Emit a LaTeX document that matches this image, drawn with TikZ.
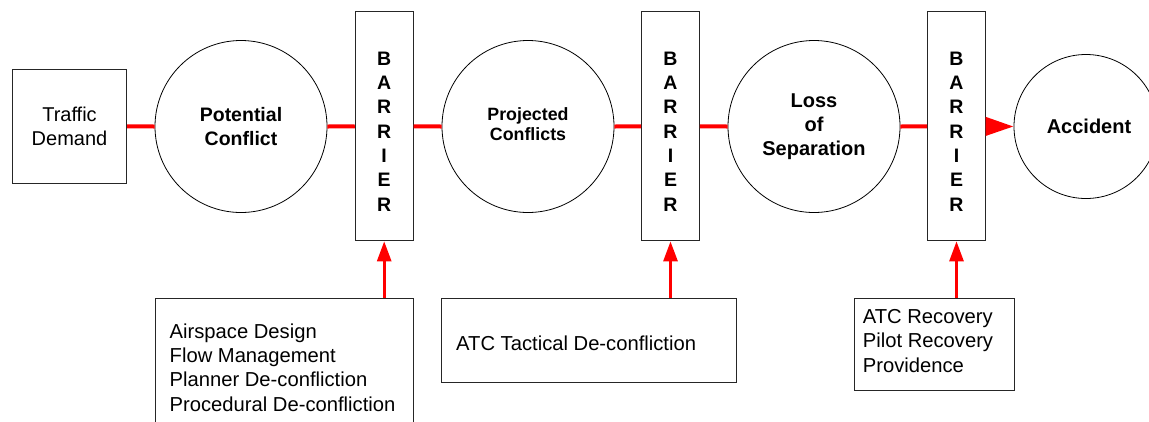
\documentclass[tikz,border=0pt]{standalone}
\usepackage{fontspec}
\setmainfont{Liberation Sans}
\usetikzlibrary{arrows.meta}
\begin{document}
\begin{tikzpicture}[x=1pt,y=-1pt,
  box/.style={draw=black!85,line width=0.9pt,rectangle,inner sep=0pt},
  ring/.style={draw=black,line width=0.8pt,circle,inner sep=0pt,minimum size=172pt,align=center,font=\fontsize{19.5}{24}\selectfont\bfseries},
  barrierbox/.style={box,minimum width=58pt,minimum height=229pt},
  barriertext/.style={inner sep=0pt,align=center,font=\fontsize{19.5}{24.33}\selectfont\bfseries},
  listtext/.style={inner sep=0pt,align=left,anchor=north west,font=\fontsize{20.2}{24.4}\selectfont},
  redline/.style={draw=red,line width=4pt},
  redarrow/.style={draw=red,line width=4pt,-{Triangle[length=28pt,width=18pt]}},
  uparrow/.style={draw=red,line width=2.8pt,-{Triangle[length=20pt,width=14pt]}}
]
\useasboundingbox (0,0) rectangle (1149,421);
\clip (0,0) rectangle (1149,421);

% top row
\node[box,minimum width=114.4pt,minimum height=114.3pt,align=center,
      font=\fontsize{20}{24}\selectfont] (td) at (69.5,126.4) {Traffic\\Demand};
\node[ring] (c1) at (241,126.5) {Potential\\Conflict};
\node[barrierbox] (b1) at (384.2,126.4) {};
\node[barriertext,anchor=north] (b1t) at (384.2,51.7) {B\\A\\R\\R\\I\\E\\R};
\node[ring,font=\fontsize{17.8}{21.7}\selectfont\bfseries] (c2) at (528,126.5) {\raisebox{-2pt}{\begin{tabular}{@{}c@{}}Projected\\[-1.5pt]Conflicts\end{tabular}}};
\node[barrierbox] (b2) at (670.5,126.4) {};
\node[barriertext,anchor=north] (b2t) at (670.5,51.7) {B\\A\\R\\R\\I\\E\\R};
\node[ring,font=\fontsize{20}{24.2}\selectfont\bfseries] (c3) at (814,126.5) {Loss\\of\\Separation};
\node[barrierbox] (b3) at (956.5,126.4) {};
\node[barriertext,anchor=north] (b3t) at (956.5,51.7) {B\\A\\R\\R\\I\\E\\R};
\node[ring,minimum size=144pt,font=\fontsize{20}{24}\selectfont\bfseries] (c4) at (1086,126.5) {\hspace*{6pt}\raisebox{-3pt}{Accident}};

% connectors along the chain
\draw[redline] (td.east) -- (c1.west);
\draw[redline] (c1.east) -- (b1.west);
\draw[redline] (b1.east) -- (c2.west);
\draw[redline] (c2.east) -- (b2.west);
\draw[redline] (b2.east) -- (c3.west);
\draw[redline] (c3.east) -- (b3.west);
\draw[redarrow] (b3.east) -- (c4.west);

% bottom boxes
\node[box,minimum width=258pt,minimum height=142pt] (m1) at (284,369) {};
\node[listtext] (m1t) at (169.5,323.3) {Airspace Design\\Flow Management\\Planner De-confliction\\Procedural De-confliction};
\node[box,minimum width=294.3pt,minimum height=84.4pt] (m2) at (588.85,340.5) {};
\node[listtext] (m2t) at (456,336) {ATC Tactical De-confliction};
\node[box,minimum width=160.3pt,minimum height=91.3pt] (m3) at (934.15,344.35) {};
\node[listtext] (m3t) at (862.7,309) {ATC Recovery\\Pilot Recovery\\Providence};

% upward arrows
\draw[uparrow] (b1.south |- m1.north) -- (b1.south);
\draw[uparrow] (b2.south |- m2.north) -- (b2.south);
\draw[uparrow] (b3.south |- m3.north) -- (b3.south);
\end{tikzpicture}
\end{document}
